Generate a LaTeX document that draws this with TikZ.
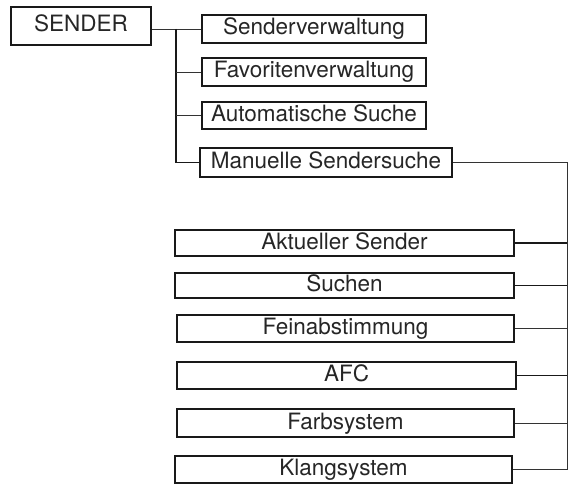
\documentclass[tikz,border=0pt]{standalone}
\usepackage{fontspec}
\setmainfont{TeX Gyre Heros}
\begin{document}
\begin{tikzpicture}[x=1pt,y=-1pt,
  menubox/.style={draw=black!90, line width=1.7pt, inner sep=0pt, text=black!85,
    font=\fontsize{22.5}{26}\selectfont, text height=15pt, text depth=3pt},
  thinline/.style={draw=black!80, line width=0.9pt},
  thickline/.style={draw=black!90, line width=1.7pt}]
\useasboundingbox (0,0) rectangle (570,484);
\fill[white] (0,0) rectangle (570,484);
% top level
\node[menubox, minimum width=140pt, minimum height=38pt] (sender) at (81,26) {SENDER};
\node[menubox, minimum width=224pt, minimum height=28pt] (t1) at (314,29) {Senderverwaltung};
\node[menubox, minimum width=224pt, minimum height=28pt] (t2) at (314,72) {Favoritenverwaltung};
\node[menubox, minimum width=224pt, minimum height=27pt] (t3) at (314,115.5) {Automatische Suche};
\node[menubox, minimum width=252pt, minimum height=29pt] (t4) at (326,162.5) {Manuelle Sendersuche};
% sub level
\node[menubox, minimum width=339pt, minimum height=26pt] (b1) at (344.5,243) {Aktueller Sender};
\node[menubox, minimum width=339pt, minimum height=25pt] (b2) at (344.5,285.5) {Suchen};
\node[menubox, minimum width=337pt, minimum height=27pt] (b3) at (345.5,328.5) {Feinabstimmung};
\node[menubox, minimum width=339pt, minimum height=27pt] (b4) at (346.5,375.5) {AFC};
\node[menubox, minimum width=337pt, minimum height=28pt] (b5) at (345.5,423) {Farbsystem};
\node[menubox, minimum width=337pt, minimum height=27pt] (b6) at (343.5,469.5) {Klangsystem};
% connectors top
\coordinate (j) at (176,0);
\draw[thinline] (sender.east |- t1.west) -- (t1.west);
\draw[thickline] (j |- t1.west) -- (j |- t4.west) -- (t4.west);
\draw[thinline] (j |- t2.west) -- (t2.west);
\draw[thinline] (j |- t3.west) -- (t3.west);
% connectors right
\coordinate (r) at (567,0);
\draw[thinline] (t4.east) -- (r |- t4.east) -- (r |- b6.east) -- (b6.east);
\draw[thickline] (b1.east) -- (r |- b1.east);
\draw[thickline] (b2.east) -- (r |- b2.east);
\draw[thinline] (b3.east) -- (r |- b3.east);
\draw[thickline] (b4.east) -- (r |- b4.east);
\draw[thinline] (b5.east) -- (r |- b5.east);
\end{tikzpicture}
\end{document}
